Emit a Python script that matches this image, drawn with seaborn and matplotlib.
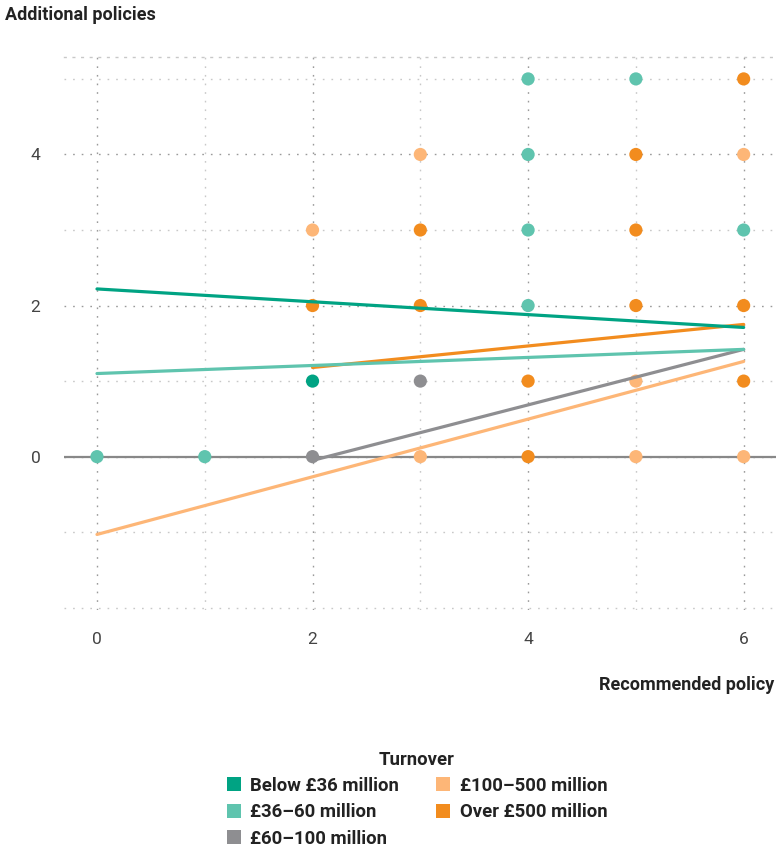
import matplotlib
matplotlib.use("Agg")
import matplotlib.pyplot as plt
from matplotlib.lines import Line2D
from matplotlib.ticker import FixedLocator
import pandas as pd
import seaborn as sns

# turnover groups and colours
groups = ["Below £36 million", "£36–60 million", "£60–100 million",
          "£100–500 million", "Over £500 million"]
colors = ["#00a383", "#5fc4ae", "#8e8e91", "#fdb677", "#f28c1e"]

# visible points (recommended policy, additional policies, group index)
pt_x = [0, 1, 2, 2, 2, 2, 3, 3, 3, 3, 3, 4, 4, 4, 4, 4, 4,
        5, 5, 5, 5, 5, 5, 6, 6, 6, 6, 6, 6]
pt_y = [0, 0, 0, 1, 2, 3, 0, 1, 2, 3, 4, 0, 1, 2, 3, 4, 5,
        0, 1, 2, 3, 4, 5, 0, 1, 2, 3, 4, 5]
pt_g = [1, 1, 2, 0, 4, 3, 3, 2, 4, 4, 3, 4, 4, 1, 1, 1, 1,
        3, 3, 4, 4, 4, 1, 3, 4, 4, 1, 3, 4]

# fitted lines per group (start x, end x, start y, end y)
fit_x0 = [0, 0, 2, 0, 2]
fit_x1 = [6, 6, 6, 6, 6]
fit_y0 = [2.22, 1.10, -0.05, -1.03, 1.18]
fit_y1 = [1.71, 1.42, 1.42, 1.26, 1.75]

x_major = [0, 2, 4, 6]
x_minor = [1, 3, 5]
y_major = [0, 2, 4]
y_minor = [-2, -1, 1, 3, 5]

font = ["Roboto", "DejaVu Sans"]

sns.set_style("white")
plt.rcParams["font.family"] = font

points = pd.DataFrame({"x": pt_x, "y": pt_y,
                       "group": [groups[g] for g in pt_g]})
palette = dict(zip(groups, colors))

fig = plt.figure(figsize=(7.76, 8.52), dpi=100)
ax = fig.add_axes([64 / 776, 1 - 610 / 852, (776 - 64) / 776, (610 - 57) / 852])

ax.set_xlim(-0.306, 6.30)
ax.set_ylim(-2.03, 5.29)

# grid
ax.xaxis.set_major_locator(FixedLocator(x_major))
ax.xaxis.set_minor_locator(FixedLocator(x_minor))
ax.yaxis.set_major_locator(FixedLocator(y_major))
ax.yaxis.set_minor_locator(FixedLocator(y_minor))
ax.grid(which="major", color="#9a9a9a", linestyle=(0, (1.2, 5)), linewidth=1.0)
ax.grid(which="minor", color="#c8c8c8", linestyle=(0, (1.2, 5)), linewidth=1.0)
ax.set_axisbelow(True)
for side in ["left", "right", "bottom"]:
    ax.spines[side].set_visible(False)
ax.spines["top"].set_color("#c8c8c8")
ax.spines["top"].set_linestyle((0, (1.2, 5)))
ax.spines["top"].set_linewidth(1.0)

ax.axhline(0, color="#888888", linewidth=1.6, zorder=1)

sns.scatterplot(data=points, x="x", y="y", hue="group", palette=palette,
                s=90, linewidth=0, legend=False, ax=ax, zorder=2)

order = [3, 4, 2, 1, 0]
for i in order:
    line = pd.DataFrame({"x": [fit_x0[i], fit_x1[i]], "y": [fit_y0[i], fit_y1[i]]})
    sns.lineplot(data=line, x="x", y="y", color=colors[i], linewidth=2.3,
                 ax=ax, zorder=3)

ax.set_xlabel("")
ax.set_ylabel("")
ax.tick_params(which="both", length=0, labelsize=12.5, labelcolor="#444444")
ax.tick_params(axis="y", pad=17)
ax.tick_params(axis="x", pad=16)

fig.text(5 / 776, 1 - 15 / 852, "Additional policies", fontsize=13,
         fontweight="bold", color="#222222", va="center", ha="left")
fig.text(774 / 776, 1 - 685 / 852, "Recommended policy", fontsize=13,
         fontweight="bold", color="#222222", va="center", ha="right")

handles = [Line2D([], [], marker="s", linestyle="", markersize=10,
                  markerfacecolor=c, markeredgewidth=0) for c in colors]
leg = fig.legend(handles, groups, title="Turnover", ncol=2,
                 loc="upper center", bbox_to_anchor=(417 / 776, 1 - 734 / 852),
                 frameon=False, fontsize=13.3, title_fontsize=13.3,
                 handlelength=0.8, handletextpad=0.5, columnspacing=2.0,
                 labelspacing=0.45)
leg.get_title().set_fontweight("bold")
leg.get_title().set_color("#222222")
for t in leg.get_texts():
    t.set_fontweight("bold")
    t.set_color("#222222")

fig.savefig("out.png", dpi=100)
